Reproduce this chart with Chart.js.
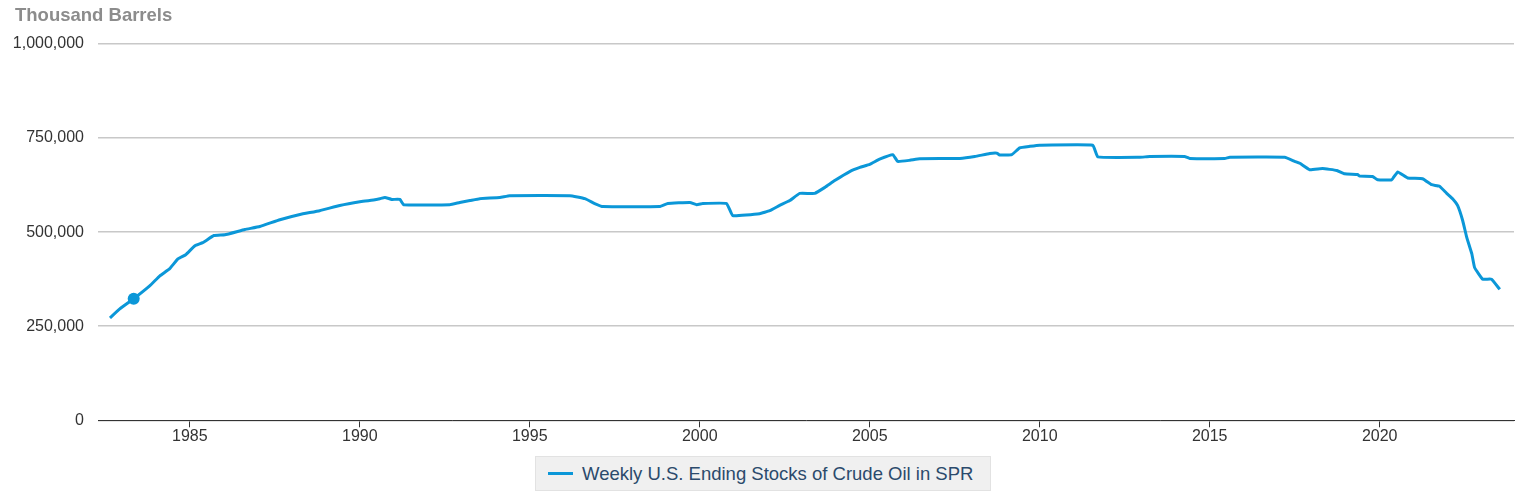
<!DOCTYPE html>
<html>
<head>
<meta charset="utf-8">
<script src="https://cdn.jsdelivr.net/npm/chart.js@4/dist/chart.umd.min.js"></script>
<style>
  body { margin: 0; background: #fff; font-family: Arial, "Liberation Sans", sans-serif; }
  #wrap { position: relative; width: 1516px; height: 455px; }
  #unit { position: absolute; left: 15px; top: 4px; font-size: 18.5px; font-weight: bold; color: #8c8c8c; }
  #legend { position: absolute; left: 535px; top: 456px; width: 456px; height: 35px; box-sizing: border-box;
            background: #f0f0f0; border: 1px solid #e2e2e2; display: flex; align-items: center;
            font-size: 18.5px; color: #2b4a6c; }
  #legend .swatch { display: inline-block; width: 25px; height: 3px; background: #0b97d8; margin: 0 9px 0 12px; }
</style>
</head>
<body>
<div id="wrap">
  <canvas id="chart" width="1516" height="455"></canvas>
  <div id="unit">Thousand Barrels</div>
</div>
<div id="legend"><span class="swatch"></span>Weekly U.S. Ending Stocks of Crude Oil in SPR</div>
<script>
'use strict';

// decimal years and stocks (thousand barrels)
const years = [
  1982.65, 1982.94, 1983.35, 1983.82, 1984.12, 1984.41, 1984.65, 1984.88, 1985.15, 1985.38,
  1985.71, 1986.03, 1986.62, 1987.06, 1987.65, 1988.24, 1988.82, 1989.41, 1990.0, 1990.29,
  1990.59, 1990.74, 1990.94, 1991.18, 1991.29, 1992.65, 1992.94, 1993.24, 1993.53, 1994.12,
  1994.41, 1996.18, 1996.62, 1996.91, 1997.15, 1998.82, 1999.06, 1999.71, 1999.91, 2000.09,
  2000.79, 2000.97, 2001.76, 2002.06, 2002.35, 2002.65, 2002.94, 2003.38, 2003.68, 2003.97,
  2004.41, 2004.71, 2005.0, 2005.29, 2005.68, 2005.82, 2006.18, 2006.47, 2007.65, 2008.09,
  2008.53, 2008.74, 2008.82, 2009.18, 2009.41, 2009.71, 2010.0, 2011.56, 2011.71, 2012.94,
  2013.24, 2014.26, 2014.41, 2015.44, 2015.59, 2017.21, 2017.5, 2017.65, 2017.94, 2018.32,
  2018.74, 2018.97, 2019.35, 2019.41, 2019.79, 2019.94, 2020.35, 2020.53, 2020.82, 2021.26,
  2021.53, 2021.76, 2021.97, 2022.15, 2022.29, 2022.44, 2022.56, 2022.71, 2022.79, 2023.03,
  2023.29, 2023.53
];
const stocks = [
  272, 296, 323, 357, 384, 403, 429, 440, 464, 472,
  491, 493, 507, 515, 533, 547, 557, 571, 581, 584,
  589, 592, 587, 587, 573, 573, 579, 584, 589, 592,
  597, 597, 589, 576, 568, 568, 576, 579, 573, 576,
  576, 544, 549, 557, 571, 584, 603, 603, 619, 637,
  661, 672, 680, 694, 706, 688, 691, 695, 696, 701,
  709, 710, 705, 706, 724, 728, 731, 731, 700, 699,
  701, 701, 696, 696, 699, 699, 688, 683, 666, 669,
  664, 655, 653, 649, 648, 639, 639, 660, 644, 642,
  626, 622, 603, 588, 571, 531, 486, 442, 406, 375,
  375, 348
].map((v) => v * 1000);

const yearTicks = [1985, 1990, 1995, 2000, 2005, 2010, 2015, 2020];
const valueTicks = [0, 250000, 500000, 750000, 1000000];
const highlightIndex = 2;

const points = years.map((yr, i) => ({ x: yr, y: stocks[i] }));
const tickFont = { size: 16, family: 'Arial, "Liberation Sans", sans-serif' };

new Chart(document.getElementById('chart').getContext('2d'), {
  type: 'line',
  data: {
    datasets: [
      {
        label: 'Weekly U.S. Ending Stocks of Crude Oil in SPR',
        data: points,
        borderColor: '#0b97d8',
        backgroundColor: '#0b97d8',
        borderWidth: 3,
        tension: 0.1,
        pointRadius: (ctx) => (ctx.dataIndex === highlightIndex ? 6 : 0),
        pointBorderWidth: 0,
      },
    ],
  },
  options: {
    responsive: false,
    animation: false,
    layout: { padding: { top: 44, right: 2, bottom: 8.5, left: 0 } },
    plugins: { legend: { display: false }, tooltip: { enabled: false } },
    scales: {
      x: {
        type: 'linear',
        min: 1982.3,
        max: 2023.95,
        afterBuildTicks: (scale) => {
          scale.ticks = yearTicks.map((v) => ({ value: v }));
        },
        ticks: {
          color: '#333',
          font: tickFont,
          callback: (v) => String(v),
          maxRotation: 0,
          padding: 0,
        },
        grid: { drawOnChartArea: false, drawTicks: true, tickLength: 7, color: '#333' },
        border: { color: '#333', width: 1 },
      },
      y: {
        min: 0,
        max: 1000000,
        afterBuildTicks: (scale) => {
          scale.ticks = valueTicks.map((v) => ({ value: v }));
        },
        afterFit: (scale) => {
          scale.width = 98;
        },
        ticks: {
          color: '#333',
          font: tickFont,
          padding: 14,
          callback: (v) => v.toLocaleString('en-US'),
        },
        grid: { color: '#c8c8c8', lineWidth: 1.5, drawTicks: false },
        border: { display: false },
      },
    },
  },
});
</script>
</body>
</html>
